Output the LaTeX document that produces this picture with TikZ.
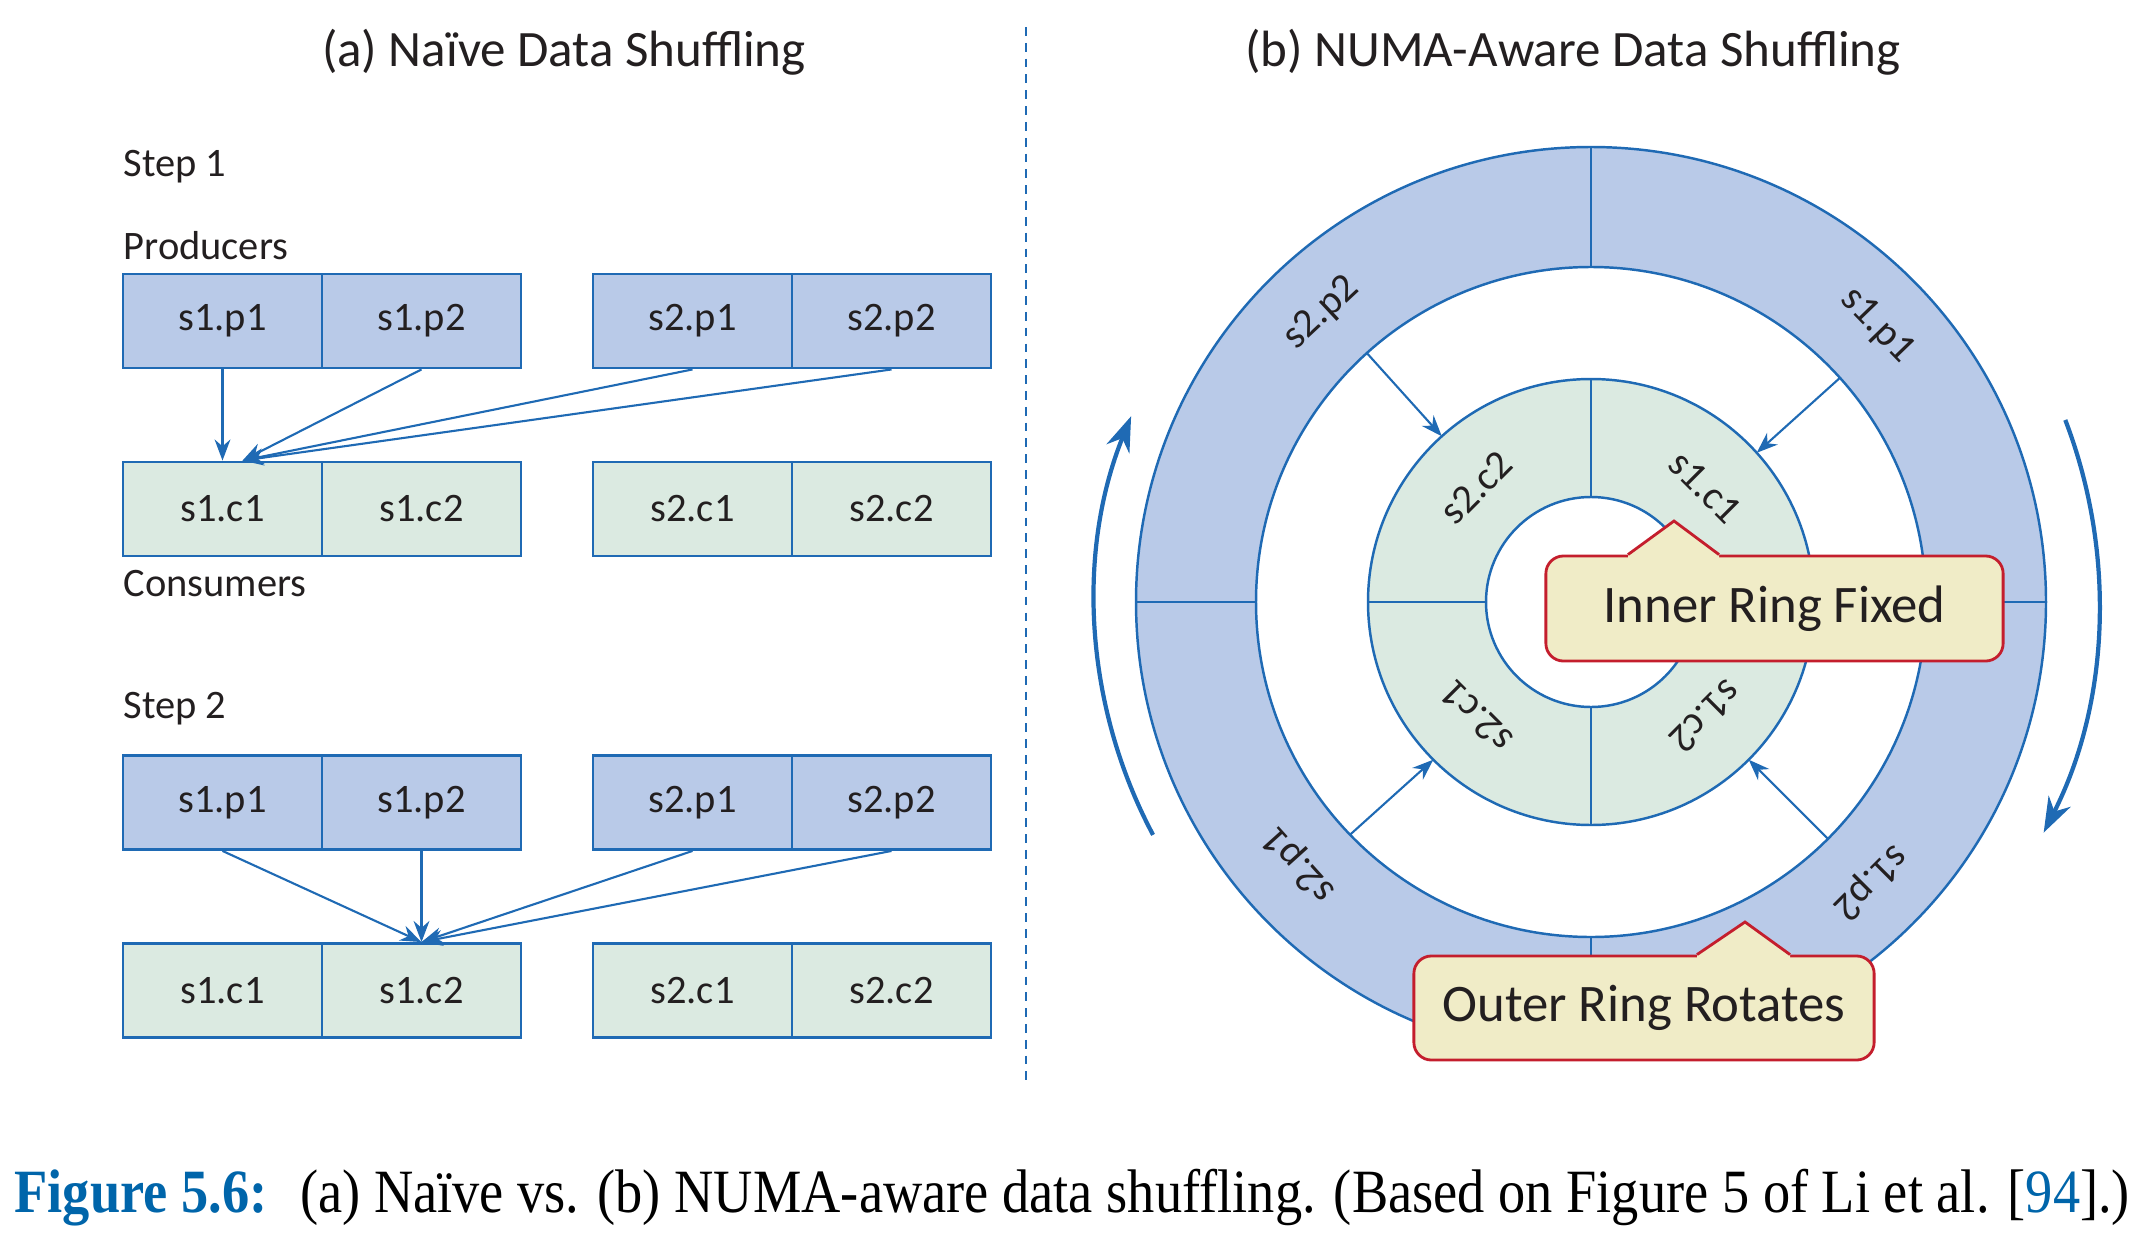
\documentclass[tikz,border=0pt]{standalone}
\usepackage{fontspec}
\setmainfont{Carlito}
\newfontfamily\capfont{Liberation Serif}
\usepackage{xcolor}
\usepackage{tikz}
\usetikzlibrary{arrows.meta,calc,positioning}
\definecolor{ringblue}{RGB}{31,106,180}
\definecolor{prodfill}{RGB}{185,202,232}
\definecolor{consfill}{RGB}{219,234,225}
\definecolor{notefill}{RGB}{240,236,199}
\definecolor{notered}{RGB}{196,30,45}
\definecolor{txt}{RGB}{35,31,32}
\definecolor{capblue}{RGB}{0,101,170}
\tikzstyle{lbl} = [text=txt, font=\fontsize{11.5}{13}\selectfont]
\tikzstyle{tag} = [lbl, anchor=west, inner sep=0pt]
\tikzstyle{cell} = [lbl, draw=ringblue, line width=0.8pt, minimum width=1.99cm, minimum height=0.94cm, inner sep=0pt]
\tikzstyle{prod} = [cell, fill=prodfill]
\tikzstyle{cons} = [cell, fill=consfill]
\tikzstyle{flow} = [ringblue, line width=0.6pt, -{Stealth[length=6pt,width=4.5pt]}]
\tikzstyle{spin} = [ringblue, line width=1.2pt, -{Stealth[length=10pt,width=7pt]}]
\tikzstyle{ringline} = [ringblue, line width=0.7pt]
\tikzstyle{note} = [draw=notered, fill=notefill, line width=0.8pt, rounded corners=5pt, text=txt, font=\fontsize{15}{18}\selectfont]

\begin{document}
\begin{tikzpicture}[x=0.01cm, y=0.01cm]
\useasboundingbox (0,0) rectangle (2151,1250);

\node[lbl, font=\fontsize{14.5}{17}\selectfont] (titleA) at (564,1198) {(a) Naïve Data Shuffling};
\node[lbl, font=\fontsize{14.5}{17}\selectfont] (titleB) at (1573,1198) {(b) NUMA-Aware Data Shuffling};
\draw[ringblue, line width=0.6pt, dash pattern=on 2.5pt off 2pt] (1026,1223) -- (1026,166);

% step 1
\node[tag] (step1) at (123,1083) {Step 1};
\node[tag] (prods) at (123,1004) {Producers};
\node[prod] (p11) at (222.5,929) {s1.p1};
\node[prod] (p12) at (421.5,929) {s1.p2};
\node[prod] (p21) at (692.5,929) {s2.p1};
\node[prod] (p22) at (891.5,929) {s2.p2};
\node[cons] (c11) at (222.5,741) {s1.c1};
\node[cons] (c12) at (421.5,741) {s1.c2};
\node[cons] (c21) at (692.5,741) {s2.c1};
\node[cons] (c22) at (891.5,741) {s2.c2};
\node[tag] (conss) at (123,666) {Consumers};
\coordinate (hit1) at ($(c11.north)+(20,0)$);
\draw[flow] (p11.south) -- (c11.north);
\draw[flow] (p12.south) -- (hit1);
\draw[flow] (p21.south) -- (hit1);
\draw[flow] (p22.south) -- (hit1);

% step 2
\node[tag] (step2) at (123,541) {Step 2};
\node[prod] (pp11) at (222.5,447.5) {s1.p1};
\node[prod] (pp12) at (421.5,447.5) {s1.p2};
\node[prod] (pp21) at (692.5,447.5) {s2.p1};
\node[prod] (pp22) at (891.5,447.5) {s2.p2};
\node[cons] (cc11) at (222.5,259.5) {s1.c1};
\node[cons] (cc12) at (421.5,259.5) {s1.c2};
\node[cons] (cc21) at (692.5,259.5) {s2.c1};
\node[cons] (cc22) at (891.5,259.5) {s2.c2};
\draw[flow] (pp11.south) -- (cc12.north);
\draw[flow] (pp12.south) -- (cc12.north);
\draw[flow] (pp21.south) -- (cc12.north);
\draw[flow] (pp22.south) -- (cc12.north);

% rings
\coordinate (C) at (1591,648);
\fill[prodfill, even odd rule] (C) circle (455) (C) circle (335);
\fill[consfill, even odd rule] (C) circle (223) (C) circle (105);
\draw[ringline] (C) circle (455) (C) circle (335) (C) circle (223) (C) circle (105);
\draw[ringline] ($(C)+(0:335)$) -- ($(C)+(0:455)$) ($(C)+(90:335)$) -- ($(C)+(90:455)$)
  ($(C)+(180:335)$) -- ($(C)+(180:455)$) ($(C)+(270:335)$) -- ($(C)+(270:455)$);
\draw[ringline] ($(C)+(0:105)$) -- ($(C)+(0:223)$) ($(C)+(90:105)$) -- ($(C)+(90:223)$)
  ($(C)+(180:105)$) -- ($(C)+(180:223)$) ($(C)+(270:105)$) -- ($(C)+(270:223)$);

\node[lbl, rotate=43] (o22) at ($(C)+(133:395)$) {s2.p2};
\node[lbl, rotate=-46] (o11) at ($(C)+(44:398)$) {s1.p1};
\node[lbl, rotate=-135] (o12) at ($(C)+(-45:395)$) {s1.p2};
\node[lbl, rotate=132] (o21) at ($(C)+(-138:392)$) {s2.p1};
\node[lbl, rotate=45] (i22) at ($(C)+(135:162)$) {s2.c2};
\node[lbl, rotate=-45] (i11) at ($(C)+(45:162)$) {s1.c1};
\node[lbl, rotate=-135] (i12) at ($(C)+(-45:162)$) {s1.c2};
\node[lbl, rotate=135] (i21) at ($(C)+(-135:162)$) {s2.c1};

\draw[flow] ($(C)+(132:335)$) -- ($(C)+(132:223)$);
\draw[flow] ($(C)+(42:335)$) -- ($(C)+(42:223)$);
\draw[flow] ($(C)+(-45:335)$) -- ($(C)+(-45:223)$);
\draw[flow] ($(C)+(-136:335)$) -- ($(C)+(-135:223)$);

\draw[spin] ($(C)+(208:496)$) arc[start angle=208, end angle=158, radius=496];
\draw[spin] ($(C)+(21:508)$) arc[start angle=21, end angle=-27, radius=508];

% callouts
\node[note, minimum width=4.57cm, minimum height=1.05cm] (fixed) at (1774.5,641.5) {Inner Ring Fixed};
\coordinate (fixedtip) at (1674,729);
\fill[notefill] ($(fixed.north)+(-146.5,-4)$) -- ($(fixed.north)+(-146.5,0)$) -- (fixedtip)
  -- ($(fixed.north)+(-55.5,0)$) -- ($(fixed.north)+(-55.5,-4)$) -- cycle;
\draw[notered, line width=0.8pt] ($(fixed.north)+(-146.5,0)$) -- (fixedtip) -- ($(fixed.north)+(-55.5,0)$);

\node[note, minimum width=4.6cm, minimum height=1.04cm] (rotates) at (1644,242) {Outer Ring Rotates};
\coordinate (rotatestip) at (1745,328);
\fill[notefill] ($(rotates.north)+(53,-4)$) -- ($(rotates.north)+(53,0)$) -- (rotatestip)
  -- ($(rotates.north)+(146,0)$) -- ($(rotates.north)+(146,-4)$) -- cycle;
\draw[notered, line width=0.8pt] ($(rotates.north)+(53,0)$) -- (rotatestip) -- ($(rotates.north)+(146,0)$);

% caption
\node[anchor=west, inner sep=0pt, xscale=0.884, font=\capfont\fontsize{17.5}{20}\selectfont] (caption) at (14,52)
  {{\color{capblue}\bfseries Figure 5.6:}\hspace{0.6em}(a) Naïve vs. (b) NUMA-aware data shuffling. (Based on Figure 5 of Li et al. [{\color{capblue}94}].)};
\end{tikzpicture}
\end{document}
